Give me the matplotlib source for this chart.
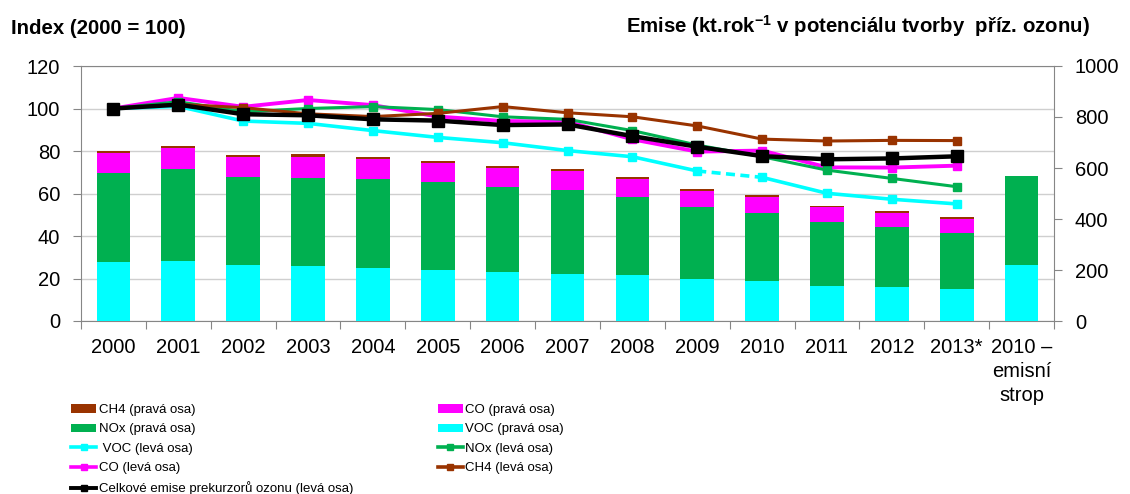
import matplotlib
matplotlib.use('Agg')
import matplotlib.pyplot as plt
import numpy as np
from matplotlib.patches import Patch
from matplotlib.lines import Line2D

plt.rcParams['font.family'] = ['Liberation Sans', 'DejaVu Sans']
plt.rcParams['mathtext.fontset'] = 'custom'
plt.rcParams['mathtext.rm'] = 'Liberation Sans'
plt.rcParams['mathtext.bf'] = 'Liberation Sans:bold'

# ---------------- data ----------------
categories = ['2000', '2001', '2002', '2003', '2004', '2005', '2006', '2007',
              '2008', '2009', '2010', '2011', '2012', '2013*',
              '2010 –\nemisní\nstrop']

# stacked bars, right axis (kt/yr in ozone formation potential)
voc_kt = [233, 235, 220, 216, 208, 200, 193, 184, 179, 164, 157, 137, 132, 126, 218]
nox_kt = [346, 360, 344, 345, 347, 344, 332, 330, 309, 282, 265, 253, 235, 219, 351]
co_kt  = [80, 85, 80, 83, 80, 76, 76, 75, 69, 63, 66, 56, 58, 55, 0]
ch4_kt = [9, 8, 8, 10, 9, 9, 7, 7, 8, 7, 6, 6, 5, 9, 0]

# index lines, left axis (2000 = 100), years 2000-2013
voc_idx   = [100, 101.0, 94.1, 93.0, 89.6, 86.4, 83.9, 80.2, 77.3, 70.6, 67.6, 60.1, 57.3, 55.1]
co_idx    = [100, 105.0, 100.8, 104.0, 101.6, 96.2, 94.1, 93.8, 85.5, 79.7, 80.2, 72.3, 72.2, 73.1]
nox_idx   = [100, 103.2, 98.5, 100.0, 100.9, 99.5, 96.1, 94.9, 89.6, 82.8, 77.3, 71.0, 67.1, 63.2]
ch4_idx   = [100, 102.0, 100.4, 97.5, 96.2, 97.7, 100.9, 98.0, 96.1, 91.8, 85.6, 84.7, 85.0, 84.9]
total_idx = [100, 101.8, 97.3, 96.8, 94.9, 94.3, 92.2, 92.5, 87.0, 82.0, 77.6, 76.1, 76.5, 77.5]

C_VOC = '#00FFFF'
C_NOX = '#00B050'
C_CO = '#FF00FF'
C_CH4 = '#993300'
GRAY = '#868686'

fig = plt.figure(figsize=(11.3, 4.94), dpi=100)
rect = [81 / 1130, 1 - 321 / 494, (1054 - 81) / 1130, (321 - 66) / 494]

axL = fig.add_axes(rect)
n = len(categories)
x = np.arange(n)
axL.set_xlim(-0.5, n - 0.5)
axL.set_ylim(0, 120)
axL.set_yticks(np.arange(0, 121, 20))
axL.yaxis.grid(True, color='#cfcfcf', lw=1)
axL.set_axisbelow(True)
for s in ['left', 'bottom', 'top']:
    axL.spines[s].set_color(GRAY)
axL.spines['right'].set_visible(False)
axL.tick_params(axis='y', direction='out', length=6, color=GRAY, pad=9, labelsize=14.5)
axL.set_xticks(np.arange(-0.5, n, 1.0))
axL.set_xticklabels([])
axL.tick_params(axis='x', which='major', direction='out', length=6, color=GRAY)
axL.set_xticks(x, categories, minor=True)
axL.tick_params(axis='x', which='minor', length=0, pad=12, labelsize=14.5)
for t in axL.get_xticklabels(minor=True):
    t.set_linespacing(1.35)

axR = axL.twinx()
axR.set_ylim(0, 1000)
axR.set_yticks(np.arange(0, 1001, 200))
for s in ['left', 'bottom', 'top']:
    axR.spines[s].set_visible(False)
axR.spines['right'].set_color(GRAY)
axR.tick_params(axis='y', direction='out', length=6, color=GRAY, pad=9, labelsize=14.5)

w = 0.52
b0 = np.zeros(n)
for vals, col in [(voc_kt, C_VOC), (nox_kt, C_NOX), (co_kt, C_CO), (ch4_kt, C_CH4)]:
    v = np.array(vals, dtype=float)
    axR.bar(x, v, w, bottom=b0, color=col, edgecolor='none')
    b0 = b0 + v

axT = fig.add_axes(rect, sharex=axL, sharey=axL)
axT.axis('off')
xl = x[:len(total_idx)]
ms = 6
axT.plot(xl[:10], voc_idx[:10], color=C_VOC, lw=2.6, marker='s', ms=ms)
axT.plot(xl[9:11], voc_idx[9:11], color=C_VOC, lw=2.6, ls=(0, (2.5, 1.5)))
axT.plot(xl[10:], voc_idx[10:], color=C_VOC, lw=2.6, marker='s', ms=ms)
axT.plot(xl, co_idx, color=C_CO, lw=2.8, marker='s', ms=ms)
axT.plot(xl, nox_idx, color=C_NOX, lw=2.2, marker='s', ms=ms)
axT.plot(xl, ch4_idx, color=C_CH4, lw=2.2, marker='s', ms=ms)
axT.plot(xl, total_idx, color='black', lw=3.2, marker='s', ms=8.5)

fig.text(11 / 1130, 1 - 29 / 494, 'Index (2000 = 100)', fontsize=14.7,
         fontweight='bold', va='center', ha='left')
fig.text(1090 / 1130, 1 - 26 / 494,
         r'Emise (kt.rok$^{\mathbf{-1}}$ v potenciálu tvorby  příz. ozonu)',
         fontsize=14.7, fontweight='bold', va='center', ha='right')

handles = [
    Patch(facecolor=C_CH4), Patch(facecolor=C_NOX),
    Line2D([], [], color=C_VOC, lw=2.6, marker='s', ms=5),
    Line2D([], [], color=C_CO, lw=2.6, marker='s', ms=5),
    Line2D([], [], color='black', lw=2.8, marker='s', ms=5),
    Patch(facecolor=C_CO), Patch(facecolor=C_VOC),
    Line2D([], [], color=C_NOX, lw=2.6, marker='s', ms=5),
    Line2D([], [], color=C_CH4, lw=2.6, marker='s', ms=5),
]
labels = ['CH4 (pravá osa)', 'NOx (pravá osa)', ' VOC (levá osa)', 'CO (levá osa)',
          'Celkové emise prekurzorů ozonu (levá osa)',
          'CO (pravá osa)', 'VOC (pravá osa)', 'NOx (levá osa)', 'CH4 (levá osa)']
fig.legend(handles, labels, ncol=2, loc='upper left',
           bbox_to_anchor=(62 / 1130, 1 - 395 / 494), frameon=False,
           fontsize=9.5, handlelength=1.9, handleheight=0.6, handletextpad=0.2,
           labelspacing=0.55, columnspacing=6.4, numpoints=1, borderpad=0.2)

fig.savefig('out.png', dpi=100)
